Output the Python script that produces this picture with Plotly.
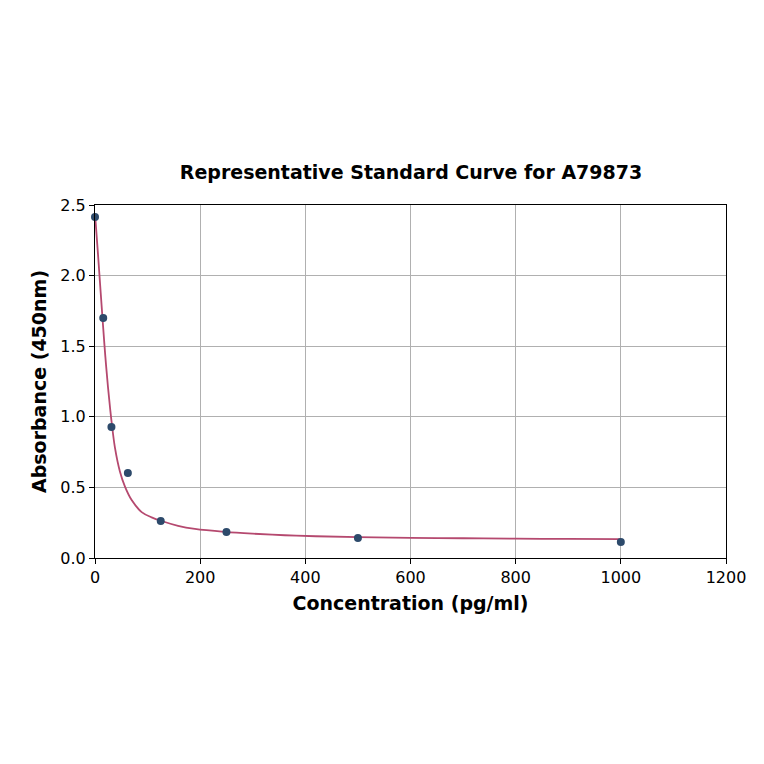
import plotly.graph_objects as go

# standard points
conc = [0, 15.625, 31.25, 62.5, 125, 250, 500, 1000]
absorb = [2.415, 1.70, 0.928, 0.602, 0.262, 0.184, 0.142, 0.113]

# fitted curve
curve_x = [0, 5.7, 10.8, 15.2, 19.6, 24.7, 29, 32, 38, 47.5, 57, 69.7, 88.7, 107.7,
           126.7, 158, 190, 247, 300, 361, 420, 500, 600, 700, 800, 900, 1000]
curve_y = [2.44, 2.15, 1.88, 1.65, 1.43, 1.21, 1.05, 0.95, 0.78, 0.611, 0.505, 0.41,
           0.325, 0.288, 0.262, 0.228, 0.206, 0.185, 0.172, 0.161, 0.154, 0.148, 0.143,
           0.140, 0.137, 0.135, 0.134]

line_col = "#b5496f"
dot_col = "#2d4a6b"
font = "DejaVu Sans"

fig = go.Figure()
fig.add_trace(go.Scatter(x=curve_x, y=curve_y, mode="lines",
                         line=dict(color=line_col, width=1.8, shape="spline", smoothing=1.0),
                         showlegend=False))
fig.add_trace(go.Scatter(x=conc, y=absorb, mode="markers", marker=dict(color=dot_col, size=8),
                         showlegend=False, cliponaxis=False))

axis_common = dict(
    showgrid=True, gridcolor="#b0b0b0", gridwidth=1,
    showline=True, linecolor="black", linewidth=1, mirror=True,
    ticks="outside", ticklen=5, tickcolor="black", tickwidth=1,
    zeroline=False, tickfont=dict(family=font, size=16, color="black"),
)

# the page has an 8px body margin, so margins are shifted to keep the plot box in place
fig.update_layout(
    width=764, height=764,
    margin=dict(l=87, r=46, t=197, b=214),
    paper_bgcolor="white", plot_bgcolor="white",
    font=dict(family=font, color="black"),
    title=dict(text="<b>Representative Standard Curve for A79873</b>", x=403 / 764, xanchor="center",
               y=1 - 164 / 764, yanchor="middle", font=dict(family=font, size=19, color="black")),
    xaxis=dict(range=[0, 1200], tickvals=[0, 200, 400, 600, 800, 1000, 1200],
               title=dict(text="<b>Concentration (pg/ml)</b>", font=dict(family=font, size=19), standoff=10),
               **axis_common),
    yaxis=dict(range=[0, 2.5], tickvals=[0, 0.5, 1.0, 1.5, 2.0, 2.5], tickformat=".1f",
               title=dict(text="<b>Absorbance (450nm)</b>", font=dict(family=font, size=19), standoff=8),
               **axis_common),
)

fig.write_html("out.html")
